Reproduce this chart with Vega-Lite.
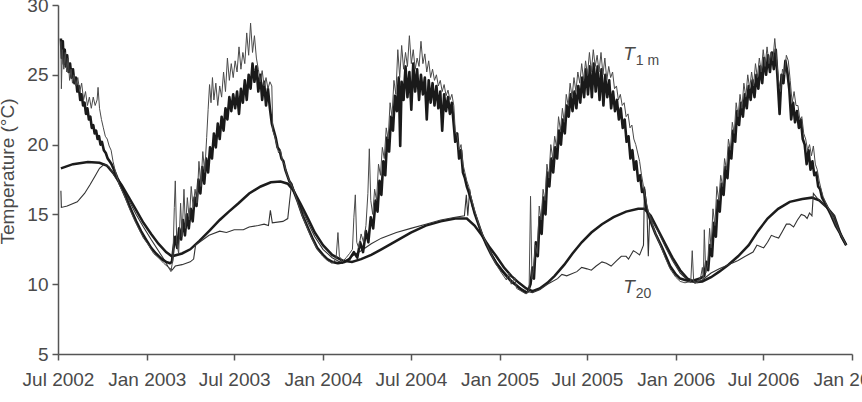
{
  "$schema": "https://vega.github.io/schema/vega-lite/v6.json",
  "autosize": "none",
  "padding": {"left": 58, "top": 5, "right": 10, "bottom": 48},
  "width": 794,
  "height": 349,
  "background": "white",
  "config": {
    "view": {"stroke": null},
    "font": "Liberation Sans",
    "axis": {"grid": false, "labelFont": "Liberation Sans", "titleFont": "Liberation Sans"}
  },
  "datasets": {
    "A": [
      {"d":"2002-07-07","t":27.4},{"d":"2002-07-08","t":24.0},{"d":"2002-07-10","t":26.8},{"d":"2002-07-13","t":25.4},{"d":"2002-07-16","t":26.6},{"d":"2002-07-19","t":25.2},{"d":"2002-07-22","t":26.2},{"d":"2002-07-25","t":24.6},{"d":"2002-07-28","t":25.4},{"d":"2002-07-31","t":24.4},{"d":"2002-08-03","t":25.0},{"d":"2002-08-07","t":24.2},{"d":"2002-08-11","t":24.8},{"d":"2002-08-15","t":23.8},{"d":"2002-08-19","t":24.4},{"d":"2002-08-23","t":23.2},{"d":"2002-08-27","t":23.8},{"d":"2002-08-31","t":22.8},{"d":"2002-09-04","t":23.4},{"d":"2002-09-08","t":22.6},{"d":"2002-09-12","t":23.4},{"d":"2002-09-16","t":22.8},{"d":"2002-09-20","t":23.2},{"d":"2002-09-22","t":24.1},{"d":"2002-09-25","t":22.6},{"d":"2002-09-29","t":21.8},{"d":"2002-10-03","t":21.2},{"d":"2002-10-07","t":20.6},{"d":"2002-10-11","t":20.4},{"d":"2002-10-15","t":19.9},{"d":"2002-10-19","t":19.6},{"d":"2002-10-23","t":18.8},{"d":"2002-10-27","t":18.2},{"d":"2002-11-05","t":17.1},{"d":"2002-11-15","t":16.4},{"d":"2002-11-25","t":15.5},{"d":"2002-12-05","t":14.7},{"d":"2002-12-15","t":14.0},{"d":"2002-12-25","t":13.3},{"d":"2003-01-05","t":12.8},{"d":"2003-01-15","t":12.2},{"d":"2003-01-25","t":11.9},{"d":"2003-02-05","t":11.5},{"d":"2003-02-15","t":11.2},{"d":"2003-02-20","t":10.9},{"d":"2003-02-24","t":11.8},{"d":"2003-02-27","t":15.5},{"d":"2003-03-01","t":17.4},{"d":"2003-03-04","t":13.0},{"d":"2003-03-08","t":12.2},{"d":"2003-03-12","t":15.8},{"d":"2003-03-15","t":13.4},{"d":"2003-03-19","t":16.8},{"d":"2003-03-22","t":14.0},{"d":"2003-03-26","t":16.2},{"d":"2003-03-30","t":14.6},{"d":"2003-04-03","t":17.0},{"d":"2003-04-07","t":15.5},{"d":"2003-04-11","t":16.8},{"d":"2003-04-15","t":15.8},{"d":"2003-04-19","t":18.8},{"d":"2003-04-23","t":17.0},{"d":"2003-04-27","t":19.5},{"d":"2003-05-01","t":18.0},{"d":"2003-05-05","t":20.5},{"d":"2003-05-08","t":22.5},{"d":"2003-05-11","t":24.3},{"d":"2003-05-14","t":23.0},{"d":"2003-05-17","t":24.8},{"d":"2003-05-20","t":23.2},{"d":"2003-05-24","t":24.4},{"d":"2003-05-28","t":22.8},{"d":"2003-06-01","t":24.2},{"d":"2003-06-05","t":23.4},{"d":"2003-06-09","t":25.2},{"d":"2003-06-13","t":23.8},{"d":"2003-06-17","t":26.2},{"d":"2003-06-21","t":24.6},{"d":"2003-06-25","t":25.8},{"d":"2003-06-29","t":24.8},{"d":"2003-07-03","t":26.0},{"d":"2003-07-07","t":25.2},{"d":"2003-07-11","t":27.0},{"d":"2003-07-15","t":25.4},{"d":"2003-07-19","t":26.6},{"d":"2003-07-23","t":25.8},{"d":"2003-07-27","t":28.0},{"d":"2003-07-31","t":26.4},{"d":"2003-08-04","t":28.7},{"d":"2003-08-08","t":26.6},{"d":"2003-08-12","t":27.8},{"d":"2003-08-16","t":26.2},{"d":"2003-08-20","t":25.4},{"d":"2003-08-24","t":24.5},{"d":"2003-08-28","t":25.3},{"d":"2003-09-01","t":24.2},{"d":"2003-09-05","t":24.8},{"d":"2003-09-09","t":24.0},{"d":"2003-09-13","t":24.5},{"d":"2003-09-17","t":24.2},{"d":"2003-09-19","t":21.0},{"d":"2003-09-23","t":20.6},{"d":"2003-09-27","t":20.0},{"d":"2003-10-01","t":19.4},{"d":"2003-10-05","t":19.6},{"d":"2003-10-09","t":18.8},{"d":"2003-10-13","t":18.6},{"d":"2003-10-17","t":18.0},{"d":"2003-10-21","t":17.6},{"d":"2003-10-25","t":17.3},{"d":"2003-11-01","t":16.8},{"d":"2003-11-10","t":15.8},{"d":"2003-11-20","t":14.8},{"d":"2003-12-01","t":13.9},{"d":"2003-12-10","t":13.2},{"d":"2003-12-20","t":12.5},{"d":"2004-01-01","t":12.0},{"d":"2004-01-10","t":11.7},{"d":"2004-01-20","t":11.5},{"d":"2004-01-28","t":11.8},{"d":"2004-02-01","t":13.7},{"d":"2004-02-04","t":12.0},{"d":"2004-02-10","t":11.6},{"d":"2004-02-18","t":11.9},{"d":"2004-02-25","t":12.2},{"d":"2004-03-02","t":12.5},{"d":"2004-03-05","t":14.8},{"d":"2004-03-08","t":16.4},{"d":"2004-03-11","t":13.0},{"d":"2004-03-15","t":12.6},{"d":"2004-03-20","t":13.6},{"d":"2004-03-25","t":13.0},{"d":"2004-03-30","t":14.2},{"d":"2004-04-03","t":16.5},{"d":"2004-04-06","t":19.7},{"d":"2004-04-09","t":16.0},{"d":"2004-04-13","t":15.0},{"d":"2004-04-17","t":16.8},{"d":"2004-04-21","t":16.0},{"d":"2004-04-25","t":18.6},{"d":"2004-04-29","t":17.8},{"d":"2004-05-03","t":19.8},{"d":"2004-05-07","t":19.0},{"d":"2004-05-11","t":21.2},{"d":"2004-05-15","t":20.4},{"d":"2004-05-19","t":23.0},{"d":"2004-05-23","t":22.0},{"d":"2004-05-27","t":24.6},{"d":"2004-05-31","t":23.6},{"d":"2004-06-04","t":26.8},{"d":"2004-06-08","t":24.8},{"d":"2004-06-12","t":27.1},{"d":"2004-06-16","t":25.4},{"d":"2004-06-20","t":26.6},{"d":"2004-06-24","t":25.6},{"d":"2004-06-28","t":27.8},{"d":"2004-07-02","t":25.8},{"d":"2004-07-06","t":26.8},{"d":"2004-07-10","t":25.4},{"d":"2004-07-14","t":26.2},{"d":"2004-07-18","t":25.6},{"d":"2004-07-22","t":27.4},{"d":"2004-07-26","t":25.8},{"d":"2004-07-30","t":26.5},{"d":"2004-08-03","t":25.2},{"d":"2004-08-07","t":26.0},{"d":"2004-08-11","t":24.8},{"d":"2004-08-15","t":25.4},{"d":"2004-08-19","t":24.6},{"d":"2004-08-23","t":25.0},{"d":"2004-08-27","t":24.2},{"d":"2004-08-31","t":24.6},{"d":"2004-09-04","t":23.8},{"d":"2004-09-08","t":24.3},{"d":"2004-09-12","t":23.5},{"d":"2004-09-16","t":23.9},{"d":"2004-09-20","t":23.2},{"d":"2004-09-24","t":23.6},{"d":"2004-09-28","t":22.8},{"d":"2004-10-01","t":21.0},{"d":"2004-10-05","t":20.6},{"d":"2004-10-09","t":19.6},{"d":"2004-10-13","t":20.0},{"d":"2004-10-17","t":18.6},{"d":"2004-10-21","t":18.0},{"d":"2004-10-25","t":17.4},{"d":"2004-10-29","t":17.0},{"d":"2004-11-03","t":16.2},{"d":"2004-11-10","t":15.3},{"d":"2004-11-18","t":14.4},{"d":"2004-11-25","t":13.7},{"d":"2004-12-05","t":12.9},{"d":"2004-12-15","t":12.1},{"d":"2004-12-25","t":11.4},{"d":"2005-01-05","t":10.8},{"d":"2005-01-15","t":10.3},{"d":"2005-01-20","t":10.8},{"d":"2005-01-25","t":10.0},{"d":"2005-02-01","t":10.5},{"d":"2005-02-05","t":9.7},{"d":"2005-02-15","t":9.5},{"d":"2005-02-25","t":9.3},{"d":"2005-03-03","t":9.6},{"d":"2005-03-06","t":16.3},{"d":"2005-03-09","t":10.4},{"d":"2005-03-12","t":11.0},{"d":"2005-03-16","t":12.8},{"d":"2005-03-20","t":12.2},{"d":"2005-03-24","t":15.6},{"d":"2005-03-28","t":14.6},{"d":"2005-04-01","t":16.8},{"d":"2005-04-05","t":16.0},{"d":"2005-04-09","t":18.6},{"d":"2005-04-13","t":17.6},{"d":"2005-04-17","t":20.0},{"d":"2005-04-21","t":19.0},{"d":"2005-04-25","t":20.6},{"d":"2005-04-29","t":19.8},{"d":"2005-05-03","t":22.0},{"d":"2005-05-07","t":21.0},{"d":"2005-05-11","t":22.6},{"d":"2005-05-15","t":21.6},{"d":"2005-05-19","t":23.6},{"d":"2005-05-23","t":22.8},{"d":"2005-05-27","t":24.4},{"d":"2005-05-31","t":23.4},{"d":"2005-06-04","t":24.8},{"d":"2005-06-08","t":23.8},{"d":"2005-06-12","t":25.2},{"d":"2005-06-16","t":24.4},{"d":"2005-06-20","t":25.8},{"d":"2005-06-24","t":24.6},{"d":"2005-06-28","t":26.0},{"d":"2005-07-02","t":25.0},{"d":"2005-07-06","t":26.6},{"d":"2005-07-10","t":25.2},{"d":"2005-07-14","t":26.8},{"d":"2005-07-18","t":25.6},{"d":"2005-07-22","t":26.4},{"d":"2005-07-26","t":25.2},{"d":"2005-07-30","t":26.6},{"d":"2005-08-03","t":25.0},{"d":"2005-08-07","t":26.2},{"d":"2005-08-11","t":24.6},{"d":"2005-08-15","t":25.6},{"d":"2005-08-19","t":24.8},{"d":"2005-08-23","t":25.2},{"d":"2005-08-27","t":24.0},{"d":"2005-08-31","t":24.2},{"d":"2005-09-04","t":23.2},{"d":"2005-09-08","t":23.6},{"d":"2005-09-12","t":22.8},{"d":"2005-09-16","t":23.0},{"d":"2005-09-20","t":22.0},{"d":"2005-09-24","t":22.2},{"d":"2005-09-28","t":21.2},{"d":"2005-10-02","t":21.4},{"d":"2005-10-06","t":20.4},{"d":"2005-10-10","t":20.0},{"d":"2005-10-14","t":19.4},{"d":"2005-10-18","t":18.8},{"d":"2005-10-22","t":17.8},{"d":"2005-10-26","t":17.0},{"d":"2005-10-30","t":16.2},{"d":"2005-11-05","t":15.2},{"d":"2005-11-12","t":14.4},{"d":"2005-11-20","t":13.6},{"d":"2005-12-01","t":12.7},{"d":"2005-12-10","t":11.9},{"d":"2005-12-20","t":11.1},{"d":"2006-01-01","t":10.5},{"d":"2006-01-10","t":10.2},{"d":"2006-01-20","t":10.1},{"d":"2006-02-01","t":10.2},{"d":"2006-02-04","t":12.4},{"d":"2006-02-07","t":10.2},{"d":"2006-02-15","t":10.1},{"d":"2006-02-22","t":10.6},{"d":"2006-02-25","t":11.2},{"d":"2006-02-27","t":10.4},{"d":"2006-03-01","t":13.9},{"d":"2006-03-04","t":10.8},{"d":"2006-03-08","t":11.4},{"d":"2006-03-12","t":14.0},{"d":"2006-03-15","t":12.6},{"d":"2006-03-19","t":15.4},{"d":"2006-03-23","t":14.2},{"d":"2006-03-27","t":17.0},{"d":"2006-03-31","t":16.0},{"d":"2006-04-04","t":17.8},{"d":"2006-04-08","t":17.0},{"d":"2006-04-12","t":19.0},{"d":"2006-04-16","t":18.2},{"d":"2006-04-20","t":20.4},{"d":"2006-04-24","t":19.6},{"d":"2006-04-28","t":21.6},{"d":"2006-05-02","t":20.8},{"d":"2006-05-06","t":23.0},{"d":"2006-05-10","t":22.0},{"d":"2006-05-14","t":23.6},{"d":"2006-05-18","t":22.6},{"d":"2006-05-22","t":24.4},{"d":"2006-05-26","t":23.4},{"d":"2006-05-30","t":25.0},{"d":"2006-06-03","t":24.0},{"d":"2006-06-07","t":25.2},{"d":"2006-06-11","t":24.2},{"d":"2006-06-15","t":25.8},{"d":"2006-06-19","t":24.8},{"d":"2006-06-23","t":26.2},{"d":"2006-06-27","t":25.2},{"d":"2006-07-01","t":26.8},{"d":"2006-07-05","t":25.6},{"d":"2006-07-09","t":27.0},{"d":"2006-07-13","t":25.8},{"d":"2006-07-17","t":26.6},{"d":"2006-07-21","t":26.0},{"d":"2006-07-25","t":27.6},{"d":"2006-07-29","t":26.0},{"d":"2006-08-02","t":24.6},{"d":"2006-08-06","t":23.8},{"d":"2006-08-10","t":25.4},{"d":"2006-08-14","t":25.0},{"d":"2006-08-18","t":26.4},{"d":"2006-08-22","t":26.0},{"d":"2006-08-26","t":24.6},{"d":"2006-08-30","t":23.0},{"d":"2006-09-03","t":23.8},{"d":"2006-09-07","t":22.8},{"d":"2006-09-11","t":22.8},{"d":"2006-09-15","t":21.8},{"d":"2006-09-19","t":22.0},{"d":"2006-09-23","t":20.8},{"d":"2006-09-27","t":20.4},{"d":"2006-10-01","t":19.6},{"d":"2006-10-05","t":20.0},{"d":"2006-10-09","t":19.2},{"d":"2006-10-13","t":19.9},{"d":"2006-10-17","t":18.6},{"d":"2006-10-21","t":18.2},{"d":"2006-10-25","t":17.4},{"d":"2006-10-29","t":16.8},{"d":"2006-11-02","t":16.3},{"d":"2006-11-08","t":15.8},{"d":"2006-11-18","t":15.1},{"d":"2006-11-28","t":14.3},{"d":"2006-12-08","t":13.6},{"d":"2006-12-20","t":12.8}
    ],
    "B": [
      {"d":"2002-07-07","t":27.6},{"d":"2002-07-09","t":26.2},{"d":"2002-07-11","t":27.4},{"d":"2002-07-13","t":25.8},{"d":"2002-07-15","t":26.8},{"d":"2002-07-17","t":25.6},{"d":"2002-07-20","t":26.4},{"d":"2002-07-23","t":25.2},{"d":"2002-07-26","t":25.8},{"d":"2002-07-29","t":24.8},{"d":"2002-08-01","t":25.4},{"d":"2002-08-04","t":24.4},{"d":"2002-08-07","t":24.8},{"d":"2002-08-10","t":23.8},{"d":"2002-08-13","t":24.2},{"d":"2002-08-16","t":23.2},{"d":"2002-08-19","t":23.6},{"d":"2002-08-22","t":22.8},{"d":"2002-08-25","t":23.0},{"d":"2002-08-28","t":22.2},{"d":"2002-08-31","t":22.6},{"d":"2002-09-03","t":21.8},{"d":"2002-09-06","t":22.0},{"d":"2002-09-09","t":21.2},{"d":"2002-09-12","t":21.4},{"d":"2002-09-15","t":20.8},{"d":"2002-09-18","t":21.0},{"d":"2002-09-21","t":20.4},{"d":"2002-09-24","t":20.6},{"d":"2002-09-27","t":20.0},{"d":"2002-09-30","t":20.2},{"d":"2002-10-04","t":19.6},{"d":"2002-10-08","t":19.4},{"d":"2002-10-12","t":19.0},{"d":"2002-10-16","t":18.8},{"d":"2002-10-20","t":18.6},{"d":"2002-10-25","t":18.2},{"d":"2002-11-01","t":17.6},{"d":"2002-11-10","t":16.9},{"d":"2002-11-20","t":16.1},{"d":"2002-12-01","t":15.2},{"d":"2002-12-10","t":14.5},{"d":"2002-12-20","t":13.8},{"d":"2003-01-01","t":13.1},{"d":"2003-01-10","t":12.6},{"d":"2003-01-20","t":12.2},{"d":"2003-02-01","t":11.8},{"d":"2003-02-10","t":11.6},{"d":"2003-02-18","t":11.5},{"d":"2003-02-22","t":11.6},{"d":"2003-02-25","t":12.5},{"d":"2003-03-01","t":13.4},{"d":"2003-03-05","t":12.6},{"d":"2003-03-09","t":14.0},{"d":"2003-03-13","t":13.2},{"d":"2003-03-17","t":14.6},{"d":"2003-03-21","t":13.5},{"d":"2003-03-25","t":15.0},{"d":"2003-03-29","t":14.0},{"d":"2003-04-02","t":15.4},{"d":"2003-04-06","t":14.5},{"d":"2003-04-10","t":16.2},{"d":"2003-04-14","t":15.6},{"d":"2003-04-18","t":17.5},{"d":"2003-04-22","t":16.5},{"d":"2003-04-26","t":18.4},{"d":"2003-04-30","t":17.2},{"d":"2003-05-04","t":19.0},{"d":"2003-05-08","t":18.0},{"d":"2003-05-12","t":19.8},{"d":"2003-05-16","t":19.0},{"d":"2003-05-20","t":20.8},{"d":"2003-05-24","t":19.8},{"d":"2003-05-28","t":21.5},{"d":"2003-06-01","t":20.4},{"d":"2003-06-05","t":22.0},{"d":"2003-06-09","t":21.0},{"d":"2003-06-13","t":22.6},{"d":"2003-06-17","t":21.8},{"d":"2003-06-21","t":23.4},{"d":"2003-06-25","t":22.4},{"d":"2003-06-29","t":23.6},{"d":"2003-07-03","t":22.6},{"d":"2003-07-07","t":23.8},{"d":"2003-07-11","t":22.2},{"d":"2003-07-15","t":24.0},{"d":"2003-07-19","t":23.0},{"d":"2003-07-23","t":24.6},{"d":"2003-07-27","t":23.2},{"d":"2003-07-31","t":25.0},{"d":"2003-08-04","t":24.0},{"d":"2003-08-08","t":25.8},{"d":"2003-08-12","t":24.5},{"d":"2003-08-16","t":25.6},{"d":"2003-08-20","t":23.8},{"d":"2003-08-24","t":25.0},{"d":"2003-08-28","t":23.2},{"d":"2003-09-01","t":24.5},{"d":"2003-09-05","t":22.8},{"d":"2003-09-09","t":24.0},{"d":"2003-09-13","t":22.6},{"d":"2003-09-17","t":21.5},{"d":"2003-09-21","t":21.0},{"d":"2003-09-25","t":20.5},{"d":"2003-09-29","t":19.8},{"d":"2003-10-03","t":19.6},{"d":"2003-10-07","t":19.0},{"d":"2003-10-11","t":18.8},{"d":"2003-10-15","t":18.2},{"d":"2003-10-19","t":17.8},{"d":"2003-10-23","t":17.4},{"d":"2003-10-27","t":17.2},{"d":"2003-11-01","t":16.7},{"d":"2003-11-10","t":15.9},{"d":"2003-11-20","t":14.9},{"d":"2003-12-01","t":14.0},{"d":"2003-12-10","t":13.3},{"d":"2003-12-20","t":12.6},{"d":"2004-01-01","t":12.1},{"d":"2004-01-10","t":11.8},{"d":"2004-01-20","t":11.6},{"d":"2004-02-01","t":11.5},{"d":"2004-02-15","t":11.6},{"d":"2004-02-25","t":11.8},{"d":"2004-03-05","t":12.3},{"d":"2004-03-12","t":11.9},{"d":"2004-03-18","t":13.0},{"d":"2004-03-24","t":12.3},{"d":"2004-03-30","t":13.8},{"d":"2004-04-04","t":13.0},{"d":"2004-04-09","t":14.8},{"d":"2004-04-14","t":14.0},{"d":"2004-04-19","t":16.0},{"d":"2004-04-23","t":15.2},{"d":"2004-04-27","t":17.4},{"d":"2004-05-01","t":16.4},{"d":"2004-05-05","t":18.8},{"d":"2004-05-09","t":17.8},{"d":"2004-05-13","t":20.5},{"d":"2004-05-17","t":19.5},{"d":"2004-05-21","t":22.0},{"d":"2004-05-25","t":21.0},{"d":"2004-05-29","t":23.5},{"d":"2004-06-02","t":22.4},{"d":"2004-06-06","t":24.8},{"d":"2004-06-09","t":19.9},{"d":"2004-06-12","t":24.5},{"d":"2004-06-16","t":23.2},{"d":"2004-06-20","t":25.6},{"d":"2004-06-24","t":23.4},{"d":"2004-06-28","t":25.2},{"d":"2004-07-02","t":22.5},{"d":"2004-07-06","t":25.8},{"d":"2004-07-10","t":23.8},{"d":"2004-07-14","t":25.4},{"d":"2004-07-18","t":23.2},{"d":"2004-07-22","t":25.0},{"d":"2004-07-26","t":23.6},{"d":"2004-07-30","t":24.8},{"d":"2004-08-03","t":21.8},{"d":"2004-08-07","t":24.6},{"d":"2004-08-11","t":23.0},{"d":"2004-08-15","t":24.4},{"d":"2004-08-19","t":22.8},{"d":"2004-08-23","t":24.2},{"d":"2004-08-27","t":22.6},{"d":"2004-08-31","t":23.8},{"d":"2004-09-04","t":21.0},{"d":"2004-09-08","t":23.6},{"d":"2004-09-12","t":22.4},{"d":"2004-09-16","t":23.4},{"d":"2004-09-20","t":22.2},{"d":"2004-09-24","t":23.0},{"d":"2004-09-28","t":21.4},{"d":"2004-10-01","t":20.2},{"d":"2004-10-05","t":20.8},{"d":"2004-10-09","t":19.0},{"d":"2004-10-13","t":19.6},{"d":"2004-10-17","t":18.0},{"d":"2004-10-21","t":17.6},{"d":"2004-10-25","t":17.0},{"d":"2004-10-29","t":16.6},{"d":"2004-11-03","t":16.0},{"d":"2004-11-10","t":15.1},{"d":"2004-11-18","t":14.3},{"d":"2004-11-25","t":13.6},{"d":"2004-12-05","t":12.8},{"d":"2004-12-15","t":12.1},{"d":"2004-12-25","t":11.5},{"d":"2005-01-05","t":11.0},{"d":"2005-01-15","t":10.6},{"d":"2005-01-25","t":10.2},{"d":"2005-02-05","t":9.9},{"d":"2005-02-15","t":9.6},{"d":"2005-02-25","t":9.4},{"d":"2005-03-01","t":9.5},{"d":"2005-03-06","t":10.0},{"d":"2005-03-10","t":11.2},{"d":"2005-03-13","t":10.4},{"d":"2005-03-17","t":13.0},{"d":"2005-03-21","t":12.0},{"d":"2005-03-25","t":14.8},{"d":"2005-03-29","t":13.6},{"d":"2005-04-02","t":16.2},{"d":"2005-04-06","t":15.0},{"d":"2005-04-10","t":18.0},{"d":"2005-04-14","t":17.0},{"d":"2005-04-18","t":19.0},{"d":"2005-04-22","t":18.0},{"d":"2005-04-26","t":19.8},{"d":"2005-04-30","t":19.0},{"d":"2005-05-04","t":21.0},{"d":"2005-05-08","t":20.0},{"d":"2005-05-12","t":21.8},{"d":"2005-05-16","t":20.8},{"d":"2005-05-20","t":22.8},{"d":"2005-05-24","t":22.0},{"d":"2005-05-28","t":23.6},{"d":"2005-06-01","t":22.4},{"d":"2005-06-05","t":23.8},{"d":"2005-06-09","t":22.6},{"d":"2005-06-13","t":24.2},{"d":"2005-06-17","t":23.0},{"d":"2005-06-21","t":24.8},{"d":"2005-06-25","t":23.4},{"d":"2005-06-29","t":25.4},{"d":"2005-07-03","t":23.6},{"d":"2005-07-07","t":25.6},{"d":"2005-07-11","t":23.4},{"d":"2005-07-15","t":25.8},{"d":"2005-07-19","t":23.8},{"d":"2005-07-23","t":25.6},{"d":"2005-07-27","t":23.2},{"d":"2005-07-31","t":25.4},{"d":"2005-08-04","t":22.8},{"d":"2005-08-08","t":25.0},{"d":"2005-08-12","t":23.4},{"d":"2005-08-16","t":24.6},{"d":"2005-08-20","t":22.6},{"d":"2005-08-24","t":23.8},{"d":"2005-08-28","t":22.4},{"d":"2005-09-01","t":23.2},{"d":"2005-09-05","t":21.8},{"d":"2005-09-09","t":22.6},{"d":"2005-09-13","t":21.2},{"d":"2005-09-17","t":21.8},{"d":"2005-09-21","t":20.2},{"d":"2005-09-25","t":20.6},{"d":"2005-09-29","t":19.0},{"d":"2005-10-03","t":19.6},{"d":"2005-10-07","t":18.2},{"d":"2005-10-11","t":18.8},{"d":"2005-10-15","t":17.4},{"d":"2005-10-19","t":17.8},{"d":"2005-10-23","t":16.6},{"d":"2005-10-27","t":16.8},{"d":"2005-10-31","t":15.6},{"d":"2005-11-05","t":15.0},{"d":"2005-11-12","t":14.3},{"d":"2005-11-20","t":13.6},{"d":"2005-12-01","t":12.8},{"d":"2005-12-10","t":12.1},{"d":"2005-12-20","t":11.3},{"d":"2006-01-01","t":10.7},{"d":"2006-01-10","t":10.4},{"d":"2006-01-20","t":10.3},{"d":"2006-02-01","t":10.2},{"d":"2006-02-10","t":10.3},{"d":"2006-02-20","t":10.4},{"d":"2006-03-01","t":10.6},{"d":"2006-03-05","t":11.6},{"d":"2006-03-09","t":11.0},{"d":"2006-03-13","t":12.8},{"d":"2006-03-17","t":12.0},{"d":"2006-03-21","t":14.4},{"d":"2006-03-25","t":13.4},{"d":"2006-03-29","t":16.0},{"d":"2006-04-02","t":15.2},{"d":"2006-04-06","t":17.2},{"d":"2006-04-10","t":16.4},{"d":"2006-04-14","t":18.4},{"d":"2006-04-18","t":17.6},{"d":"2006-04-22","t":19.8},{"d":"2006-04-26","t":19.0},{"d":"2006-04-30","t":21.0},{"d":"2006-05-04","t":20.2},{"d":"2006-05-08","t":22.4},{"d":"2006-05-12","t":21.4},{"d":"2006-05-16","t":23.0},{"d":"2006-05-20","t":22.0},{"d":"2006-05-24","t":23.6},{"d":"2006-05-28","t":22.6},{"d":"2006-06-01","t":24.2},{"d":"2006-06-05","t":23.2},{"d":"2006-06-09","t":24.6},{"d":"2006-06-13","t":23.4},{"d":"2006-06-17","t":25.0},{"d":"2006-06-21","t":24.0},{"d":"2006-06-25","t":25.6},{"d":"2006-06-29","t":24.4},{"d":"2006-07-03","t":26.2},{"d":"2006-07-07","t":25.0},{"d":"2006-07-11","t":26.4},{"d":"2006-07-15","t":25.2},{"d":"2006-07-19","t":26.6},{"d":"2006-07-23","t":25.4},{"d":"2006-07-27","t":26.8},{"d":"2006-07-31","t":24.6},{"d":"2006-08-04","t":22.2},{"d":"2006-08-08","t":25.0},{"d":"2006-08-12","t":24.4},{"d":"2006-08-16","t":26.0},{"d":"2006-08-20","t":25.2},{"d":"2006-08-24","t":24.0},{"d":"2006-08-28","t":21.8},{"d":"2006-09-01","t":23.0},{"d":"2006-09-05","t":21.6},{"d":"2006-09-09","t":22.4},{"d":"2006-09-13","t":21.2},{"d":"2006-09-17","t":21.8},{"d":"2006-09-21","t":20.4},{"d":"2006-09-25","t":20.0},{"d":"2006-09-29","t":18.6},{"d":"2006-10-03","t":19.6},{"d":"2006-10-07","t":18.2},{"d":"2006-10-11","t":18.8},{"d":"2006-10-15","t":17.8},{"d":"2006-10-19","t":18.0},{"d":"2006-10-23","t":17.0},{"d":"2006-10-27","t":16.8},{"d":"2006-10-31","t":16.2},{"d":"2006-11-08","t":15.7},{"d":"2006-11-18","t":15.0},{"d":"2006-11-28","t":14.2},{"d":"2006-12-08","t":13.6},{"d":"2006-12-20","t":12.8}
    ],
    "C": [
      {"d":"2002-07-07","t":18.3},{"d":"2002-08-01","t":18.6},{"d":"2002-09-01","t":18.75},{"d":"2002-09-25","t":18.7},{"d":"2002-10-10","t":18.5},{"d":"2002-10-25","t":17.9},{"d":"2002-11-10","t":17.1},{"d":"2002-11-25","t":16.2},{"d":"2002-12-10","t":15.3},{"d":"2002-12-25","t":14.4},{"d":"2003-01-10","t":13.6},{"d":"2003-01-25","t":12.9},{"d":"2003-02-10","t":12.3},{"d":"2003-02-22","t":12.0},{"d":"2003-03-15","t":12.2},{"d":"2003-04-01","t":12.5},{"d":"2003-04-20","t":13.1},{"d":"2003-05-10","t":13.8},{"d":"2003-06-01","t":14.6},{"d":"2003-06-20","t":15.2},{"d":"2003-07-10","t":15.8},{"d":"2003-08-01","t":16.5},{"d":"2003-08-25","t":17.0},{"d":"2003-09-15","t":17.3},{"d":"2003-10-05","t":17.35},{"d":"2003-10-20","t":17.2},{"d":"2003-11-01","t":16.7},{"d":"2003-11-15","t":15.8},{"d":"2003-12-01","t":14.7},{"d":"2003-12-15","t":13.7},{"d":"2004-01-01","t":12.8},{"d":"2004-01-20","t":12.1},{"d":"2004-02-10","t":11.7},{"d":"2004-03-01","t":11.6},{"d":"2004-03-20","t":11.8},{"d":"2004-04-10","t":12.1},{"d":"2004-05-01","t":12.5},{"d":"2004-06-01","t":13.1},{"d":"2004-07-01","t":13.7},{"d":"2004-08-01","t":14.2},{"d":"2004-09-01","t":14.5},{"d":"2004-10-01","t":14.7},{"d":"2004-10-25","t":14.7},{"d":"2004-11-10","t":14.2},{"d":"2004-11-25","t":13.5},{"d":"2004-12-10","t":12.7},{"d":"2004-12-25","t":12.0},{"d":"2005-01-10","t":11.2},{"d":"2005-01-25","t":10.6},{"d":"2005-02-10","t":10.1},{"d":"2005-02-25","t":9.7},{"d":"2005-03-10","t":9.5},{"d":"2005-03-25","t":9.7},{"d":"2005-04-10","t":10.1},{"d":"2005-04-25","t":10.6},{"d":"2005-05-15","t":11.4},{"d":"2005-06-01","t":12.2},{"d":"2005-06-20","t":13.0},{"d":"2005-07-10","t":13.7},{"d":"2005-08-01","t":14.3},{"d":"2005-08-25","t":14.8},{"d":"2005-09-20","t":15.2},{"d":"2005-10-15","t":15.4},{"d":"2005-10-28","t":15.4},{"d":"2005-11-10","t":14.9},{"d":"2005-11-25","t":13.9},{"d":"2005-12-10","t":12.9},{"d":"2005-12-25","t":11.9},{"d":"2006-01-10","t":11.0},{"d":"2006-01-25","t":10.4},{"d":"2006-02-10","t":10.15},{"d":"2006-02-25","t":10.2},{"d":"2006-03-15","t":10.5},{"d":"2006-04-01","t":10.9},{"d":"2006-04-20","t":11.4},{"d":"2006-05-10","t":12.0},{"d":"2006-06-01","t":12.8},{"d":"2006-06-20","t":13.8},{"d":"2006-07-10","t":14.7},{"d":"2006-08-01","t":15.4},{"d":"2006-08-25","t":15.9},{"d":"2006-09-20","t":16.1},{"d":"2006-10-10","t":16.2},{"d":"2006-10-25","t":16.0},{"d":"2006-11-10","t":15.5},{"d":"2006-11-25","t":14.9},{"d":"2006-12-10","t":13.4},{"d":"2006-12-20","t":12.8}
    ],
    "D": [
      {"d":"2002-07-07","t":16.7},{"d":"2002-07-08","t":15.5},{"d":"2002-07-20","t":15.6},{"d":"2002-08-10","t":15.9},{"d":"2002-08-25","t":16.5},{"d":"2002-09-05","t":17.1},{"d":"2002-09-15","t":17.7},{"d":"2002-09-25","t":18.3},{"d":"2002-10-05","t":18.6},{"d":"2002-10-15","t":18.4},{"d":"2002-10-25","t":17.8},{"d":"2002-11-10","t":16.9},{"d":"2002-11-25","t":16.0},{"d":"2002-12-10","t":15.0},{"d":"2002-12-25","t":14.1},{"d":"2003-01-10","t":13.2},{"d":"2003-01-25","t":12.4},{"d":"2003-02-05","t":11.8},{"d":"2003-02-15","t":11.2},{"d":"2003-02-22","t":11.0},{"d":"2003-03-01","t":11.3},{"d":"2003-03-15","t":11.4},{"d":"2003-04-01","t":11.6},{"d":"2003-04-08","t":11.8},{"d":"2003-04-12","t":12.8},{"d":"2003-04-20","t":13.0},{"d":"2003-05-10","t":13.5},{"d":"2003-06-01","t":13.8},{"d":"2003-06-15","t":13.7},{"d":"2003-07-01","t":13.9},{"d":"2003-07-20","t":13.9},{"d":"2003-08-01","t":14.1},{"d":"2003-08-20","t":14.2},{"d":"2003-09-01","t":14.3},{"d":"2003-09-10","t":14.2},{"d":"2003-09-14","t":15.3},{"d":"2003-09-18","t":14.4},{"d":"2003-10-10","t":14.5},{"d":"2003-10-20","t":14.7},{"d":"2003-10-24","t":16.0},{"d":"2003-10-28","t":17.2},{"d":"2003-11-05","t":16.4},{"d":"2003-11-15","t":15.6},{"d":"2003-12-01","t":14.4},{"d":"2003-12-15","t":13.4},{"d":"2004-01-01","t":12.5},{"d":"2004-01-20","t":11.9},{"d":"2004-02-10","t":11.5},{"d":"2004-03-01","t":12.0},{"d":"2004-03-20","t":12.4},{"d":"2004-04-10","t":12.9},{"d":"2004-05-01","t":13.3},{"d":"2004-06-01","t":13.7},{"d":"2004-07-01","t":14.0},{"d":"2004-08-01","t":14.3},{"d":"2004-09-01","t":14.6},{"d":"2004-10-01","t":14.8},{"d":"2004-10-20","t":14.9},{"d":"2004-10-24","t":16.4},{"d":"2004-10-27","t":14.9},{"d":"2004-10-31","t":16.8},{"d":"2004-11-05","t":15.6},{"d":"2004-11-12","t":14.9},{"d":"2004-11-20","t":14.1},{"d":"2004-11-28","t":13.4},{"d":"2004-12-10","t":12.5},{"d":"2004-12-25","t":11.6},{"d":"2005-01-10","t":10.9},{"d":"2005-01-25","t":10.3},{"d":"2005-02-10","t":9.8},{"d":"2005-02-25","t":9.5},{"d":"2005-03-10","t":9.4},{"d":"2005-03-25","t":9.6},{"d":"2005-04-10","t":10.0},{"d":"2005-05-01","t":10.4},{"d":"2005-05-10","t":10.7},{"d":"2005-05-20","t":10.6},{"d":"2005-06-10","t":10.9},{"d":"2005-06-20","t":11.2},{"d":"2005-07-01","t":11.1},{"d":"2005-07-10","t":11.0},{"d":"2005-07-20","t":11.3},{"d":"2005-08-01","t":11.6},{"d":"2005-08-10","t":11.5},{"d":"2005-08-20","t":11.3},{"d":"2005-09-01","t":11.7},{"d":"2005-09-10","t":12.0},{"d":"2005-09-20","t":12.0},{"d":"2005-09-25","t":11.8},{"d":"2005-10-05","t":12.4},{"d":"2005-10-10","t":12.3},{"d":"2005-10-18","t":12.1},{"d":"2005-10-26","t":12.8},{"d":"2005-10-28","t":17.0},{"d":"2005-11-02","t":15.5},{"d":"2005-11-05","t":12.0},{"d":"2005-11-08","t":15.0},{"d":"2005-11-15","t":14.4},{"d":"2005-11-25","t":13.8},{"d":"2005-12-10","t":12.7},{"d":"2005-12-25","t":11.7},{"d":"2006-01-10","t":10.8},{"d":"2006-01-25","t":10.3},{"d":"2006-02-10","t":10.1},{"d":"2006-02-25","t":10.3},{"d":"2006-03-15","t":10.8},{"d":"2006-04-01","t":11.1},{"d":"2006-04-20","t":11.4},{"d":"2006-05-10","t":11.7},{"d":"2006-05-25","t":12.0},{"d":"2006-06-10","t":12.3},{"d":"2006-06-18","t":12.8},{"d":"2006-06-25","t":12.7},{"d":"2006-07-02","t":12.6},{"d":"2006-07-10","t":13.0},{"d":"2006-07-18","t":13.5},{"d":"2006-07-25","t":13.4},{"d":"2006-08-02","t":13.3},{"d":"2006-08-10","t":13.8},{"d":"2006-08-18","t":14.3},{"d":"2006-08-25","t":14.3},{"d":"2006-09-02","t":14.1},{"d":"2006-09-10","t":14.6},{"d":"2006-09-18","t":15.0},{"d":"2006-09-25","t":14.9},{"d":"2006-09-30","t":14.7},{"d":"2006-10-05","t":15.1},{"d":"2006-10-10","t":14.9},{"d":"2006-10-13","t":16.5},{"d":"2006-10-20","t":16.2},{"d":"2006-11-10","t":15.5},{"d":"2006-11-25","t":14.9},{"d":"2006-12-10","t":13.4},{"d":"2006-12-20","t":12.8}
    ],
    "LT": [
      {"d":"2005-09-26","t":26.06,"txt":"T"},
      {"d":"2005-09-26","t":9.37,"txt":"T"}
    ],
    "LS": [
      {"d":"2005-10-10","t":25.7,"txt":"1 m"},
      {"d":"2005-10-10","t":9.01,"txt":"20"}
    ]
  },
  "encoding": {
    "x": {
      "field": "d", "type": "temporal",
      "scale": {"type": "utc", "domain": [{"year": 2002, "month": 7, "date": 1, "utc": true}, {"year": 2007, "month": 1, "date": 1, "utc": true}]},
      "axis": {
        "title": null,
        "values": [
          {"year": 2002, "month": 7, "date": 1, "utc": true},
          {"year": 2003, "month": 1, "date": 1, "utc": true},
          {"year": 2003, "month": 7, "date": 1, "utc": true},
          {"year": 2004, "month": 1, "date": 1, "utc": true},
          {"year": 2004, "month": 7, "date": 1, "utc": true},
          {"year": 2005, "month": 1, "date": 1, "utc": true},
          {"year": 2005, "month": 7, "date": 1, "utc": true},
          {"year": 2006, "month": 1, "date": 1, "utc": true},
          {"year": 2006, "month": 7, "date": 1, "utc": true},
          {"year": 2007, "month": 1, "date": 1, "utc": true}
        ],
        "format": "%b %Y",
        "labelFontSize": 19, "labelColor": "#4a4a4a", "labelPadding": 10,
        "labelFlush": false, "labelOverlap": false,
        "tickSize": 6, "tickWidth": 1.5, "tickColor": "#555555",
        "domainColor": "#555555", "domainWidth": 1.5
      }
    },
    "y": {
      "field": "t", "type": "quantitative",
      "scale": {"domain": [5, 30], "nice": false, "zero": false},
      "axis": {
        "title": "Temperature (°C)",
        "values": [5, 10, 15, 20, 25, 30],
        "labelFontSize": 19, "labelColor": "#4a4a4a", "labelPadding": 4,
        "tickSize": 6, "tickWidth": 1.5, "tickColor": "#555555",
        "domainColor": "#555555", "domainWidth": 1.5,
        "titleFontSize": 19, "titleFontWeight": "normal", "titleColor": "#4a4a4a",
        "titleX": -45, "titleY": 166, "titleAngle": -90, "titleAlign": "center", "titleBaseline": "alphabetic"
      }
    }
  },
  "layer": [
    {"data": {"name": "C"}, "mark": {"type": "line", "color": "#1c1c1c", "strokeWidth": 2.5}},
    {"data": {"name": "D"}, "mark": {"type": "line", "color": "#333333", "strokeWidth": 1.1}},
    {"data": {"name": "B"}, "mark": {"type": "line", "color": "#1a1a1a", "strokeWidth": 2.6, "strokeJoin": "round"}},
    {"data": {"name": "A"}, "mark": {"type": "line", "color": "#4a4a4a", "strokeWidth": 1.0}},
    {"data": {"name": "LT"}, "mark": {"type": "text", "fontSize": 19, "fontStyle": "italic", "color": "#4a4a4a", "align": "center", "baseline": "alphabetic"}, "encoding": {"text": {"field": "txt"}}},
    {"data": {"name": "LS"}, "mark": {"type": "text", "fontSize": 14, "color": "#4a4a4a", "align": "left", "baseline": "alphabetic"}, "encoding": {"text": {"field": "txt"}}}
  ]
}
